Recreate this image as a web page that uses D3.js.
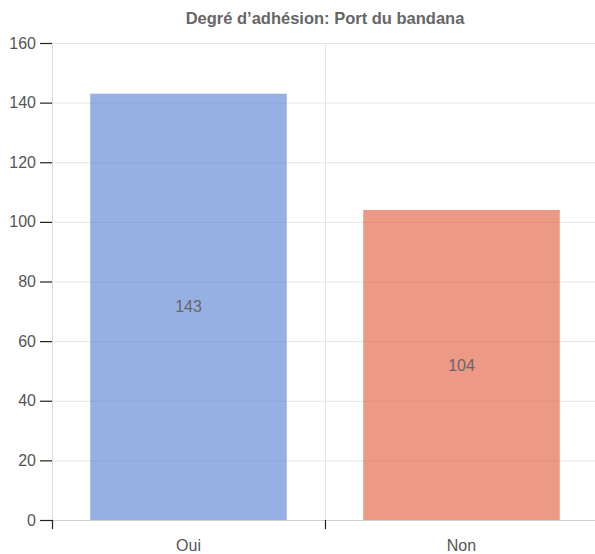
<!DOCTYPE html>
<html><head><meta charset="utf-8">
<script src="https://cdn.jsdelivr.net/npm/d3@7"></script>
<style>body{margin:0;background:#fff}text{font-family:Arial,"Liberation Sans",sans-serif}</style>
</head><body><svg id="c" width="595" height="554"></svg>
<script>
const categories = ["Oui", "Non"];
const values = [143, 104];
const yTicks = [0, 20, 40, 60, 80, 100, 120, 140, 160];
const colors = ["#5f86d4", "#e26445"];
const title = "Degré d\u2019adhésion: Port du bandana";

(function () {
const svg = d3.select("#c");
const mLeft = 52, mRight = 598, mTop = 43, mBottom = 520;
const x = d3.scaleBand().domain(categories).range([mLeft, mRight]).padding(0);
const y = d3.scaleLinear().domain([0, 160]).range([mBottom, mTop]);

svg.append("g").selectAll("line").data(yTicks).join("line")
  .attr("x1", mLeft).attr("x2", 595).attr("y1", d => y(d) + 0.5).attr("y2", d => y(d) + 0.5)
  .attr("stroke", "#e6e6e6").attr("stroke-width", 1);
svg.append("g").selectAll("line").data(categories.slice(1)).join("line")
  .attr("x1", d => x(d) + 0.5).attr("x2", d => x(d) + 0.5).attr("y1", mTop).attr("y2", mBottom)
  .attr("stroke", "#e6e6e6");

svg.append("line").attr("x1", mLeft + 0.5).attr("x2", mLeft + 0.5).attr("y1", mTop).attr("y2", mBottom)
  .attr("stroke", "#d9d9d9");
const yg = svg.append("g");
yg.selectAll("line").data(yTicks).join("line")
  .attr("x1", 40).attr("x2", mLeft).attr("y1", d => y(d) + 0.5).attr("y2", d => y(d) + 0.5)
  .attr("stroke", "#222").attr("stroke-width", 1.2);
yg.selectAll("text").data(yTicks).join("text")
  .attr("x", 36).attr("y", d => y(d)).attr("dy", "0.35em").attr("text-anchor", "end")
  .attr("font-size", 16).attr("fill", "#555").text(d => d);

const bw = x.bandwidth() * 0.72;
svg.append("g").selectAll("rect").data(values).join("rect")
  .attr("x", (d, i) => x(categories[i]) + (x.bandwidth() - bw) / 2)
  .attr("width", bw)
  .attr("y", d => y(d)).attr("height", d => mBottom - y(d))
  .attr("fill", (d, i) => colors[i]).attr("fill-opacity", 0.65);

svg.append("line").attr("x1", mLeft).attr("x2", 595).attr("y1", mBottom + 0.5).attr("y2", mBottom + 0.5)
  .attr("stroke", "#d0d0d0");
svg.append("g").selectAll("line").data(categories).join("line")
  .attr("x1", d => x(d) + 0.5).attr("x2", d => x(d) + 0.5).attr("y1", mBottom).attr("y2", mBottom + 9)
  .attr("stroke", "#222").attr("stroke-width", 1.2);
svg.append("g").selectAll("text").data(categories).join("text")
  .attr("x", d => x(d) + x.bandwidth() / 2).attr("y", 545).attr("dy", "0.35em")
  .attr("text-anchor", "middle").attr("font-size", 16).attr("fill", "#555").text(d => d);

svg.append("g").selectAll("text").data(values).join("text")
  .attr("x", (d, i) => x(categories[i]) + x.bandwidth() / 2)
  .attr("y", d => (y(d) + mBottom) / 2).attr("dy", "0.35em")
  .attr("text-anchor", "middle").attr("font-size", 16).attr("fill", "#666").text(d => d);

svg.append("text").attr("x", (mLeft + mRight) / 2).attr("y", 18).attr("dy", "0.35em")
  .attr("text-anchor", "middle").attr("font-size", 16.5).attr("font-weight", "bold")
  .attr("fill", "#666").text(title);
})();
</script></body></html>
